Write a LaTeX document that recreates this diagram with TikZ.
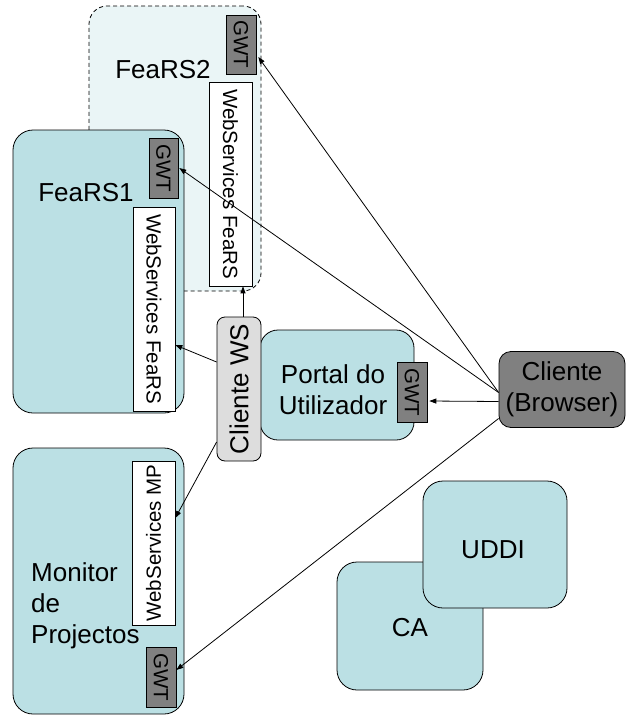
\documentclass[tikz,border=0pt]{standalone}
\usepackage{fontspec}
\setmainfont{Liberation Sans}
\usepackage{graphicx}
\usetikzlibrary{arrows.meta}
\definecolor{tealfill}{RGB}{187,224,228}
\definecolor{palefill}{RGB}{234,245,246}
\definecolor{wsgray}{RGB}{221,221,221}
\definecolor{gwtgray}{RGB}{128,128,128}
\tikzset{
  big/.style={font=\fontsize{26}{31}\selectfont},
  small/.style={font=\fontsize{20.5}{24}\selectfont},
  tealbox/.style={draw=black, line width=0.8pt, fill=tealfill, rounded corners=20pt, inner sep=0pt},
  dashbox/.style={draw=black, line width=0.8pt, fill=palefill, rounded corners=18pt, dash pattern=on 4pt off 3pt, inner sep=0pt},
  gwtbox/.style={draw=black, line width=0.6pt, fill=gwtgray, inner sep=0pt, small},
  wsbox/.style={draw=black, line width=0.6pt, fill=white, inner sep=0pt, small},
  cwsbox/.style={draw=black, line width=0.8pt, fill=wsgray, rounded corners=8pt, inner sep=0pt, big},
  brbox/.style={draw=black, line width=0.8pt, fill=gwtgray, rounded corners=12pt, inner sep=0pt, big, align=center},
  lbl/.style={inner sep=0pt, big},
  arr/.style={draw=black, line width=0.8pt, -{Triangle[length=7pt,width=5pt]}},
}
\begin{document}
\begin{tikzpicture}[x=1pt,y=-1pt]
\useasboundingbox (0,0) rectangle (626,723);
% FeaRS2
\node[dashbox, minimum width=172pt, minimum height=285pt] (fears2) at (175,148.5) {};
\node[lbl] (fears2l) at (163,70) {FeaRS2};
\node[gwtbox, minimum width=30pt, minimum height=59pt] (gwt2) at (241,44.5) {\rotatebox{-90}{GWT}};
\node[wsbox, minimum width=43pt, minimum height=204pt] (ws2) at (230.5,184) {\rotatebox{-90}{WebServices FeaRS}};
% FeaRS1
\node[tealbox, minimum width=171pt, minimum height=283pt] (fears1) at (98.5,271.5) {};
\node[lbl] (fears1l) at (86,193) {FeaRS1};
\node[gwtbox, minimum width=29pt, minimum height=60pt] (gwt1) at (163.5,168) {\rotatebox{-90}{GWT}};
\node[wsbox, minimum width=42pt, minimum height=204pt] (ws1) at (154,309) {\rotatebox{-90}{WebServices FeaRS}};
% Portal
\node[tealbox, rounded corners=18pt, minimum width=154pt, minimum height=110pt] (portal) at (337,385) {};
\node[lbl, align=center] (portall) at (333,390) {Portal do\\Utilizador};
\node[gwtbox, minimum width=30pt, minimum height=60pt] (gwtp) at (412,392) {\rotatebox{-90}{GWT}};
% Cliente WS
\node[cwsbox, minimum width=44pt, minimum height=144pt] (cws) at (239,389) {\rotatebox{90}{Cliente WS}};
% Browser
\node[brbox, minimum width=126pt, minimum height=76pt] (browser) at (562,389.5) {Cliente\\(Browser)};
% Monitor
\node[tealbox, minimum width=171pt, minimum height=266pt] (monitor) at (98.5,581) {};
\node[lbl, anchor=west, align=left] (monitorl) at (31,606) {Monitor\\de\\Projectos};
\node[wsbox, minimum width=43pt, minimum height=164pt] (wsmp) at (153.5,543) {\rotatebox{90}{WebServices MP}};
\node[gwtbox, minimum width=30pt, minimum height=60pt] (gwtmp) at (161,677) {\rotatebox{-90}{GWT}};
% CA and UDDI
\node[tealbox, minimum width=146pt, minimum height=128pt] (ca) at (410,626) {};
\node[lbl] (cal) at (410,628) {CA};
\node[tealbox, minimum width=144pt, minimum height=127pt] (uddi) at (495,544.5) {};
\node[lbl] (uddil) at (493,550) {UDDI};
% connectors
\draw[arr] ([yshift=-3pt]browser.west) -- ([yshift=-12.5pt,xshift=2pt]gwt2.east);
\draw[arr] ([yshift=-3pt]browser.west) -- ([xshift=1pt]gwt1.east);
\draw[arr] ([yshift=-12pt]browser.west) -- ([yshift=-9pt,xshift=2pt]gwtp.east);
\draw[arr] ([yshift=-29pt]browser.west) -- ([yshift=7pt]gwtmp.east);
\draw[arr] ([xshift=4pt]cws.north) -- ([xshift=4pt]cws.north |- ws2.south);
\draw[arr] ([yshift=27pt]cws.west) -- ([yshift=-36pt]ws1.east);
\draw[arr] ([yshift=-53pt]cws.west) -- ([yshift=25pt]wsmp.east);
\end{tikzpicture}
\end{document}
